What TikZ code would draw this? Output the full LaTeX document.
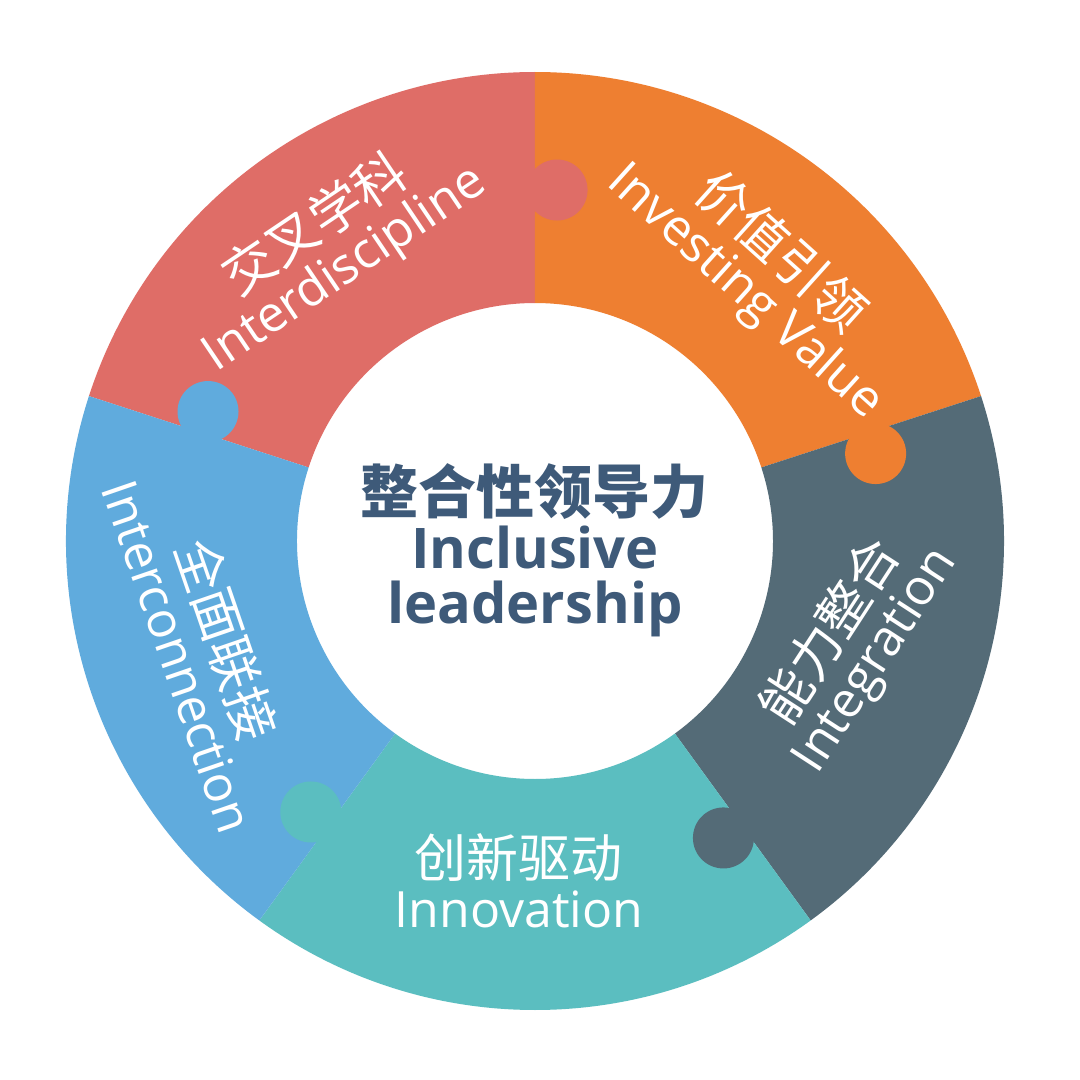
\documentclass[tikz,border=0pt]{standalone}
\usepackage{fontspec}
\setmainfont{Open Sans}
\newfontfamily\cjk{Noto Sans CJK SC}
\definecolor{cred}{HTML}{DF6D67}
\definecolor{corange}{HTML}{EE7F31}
\definecolor{cgray}{HTML}{546B77}
\definecolor{cteal}{HTML}{5BBEC0}
\definecolor{cblue}{HTML}{60ABDD}
\definecolor{ctext}{HTML}{3E5A79}
\tikzset{
  segtext/.style={text=white, align=center, inner sep=0pt,
    font=\fontsize{50}{50}\selectfont},
  midtext/.style={text=ctext, align=center, inner sep=0pt,
    font=\bfseries\fontsize{56}{55}\selectfont},
}
\newcommand{\ringseg}[3]{%
  \fill[#1] (#2:238pt) -- (#2:469pt) arc[start angle=#2, end angle=#3, radius=469pt]
    -- (#3:238pt) arc[start angle=#3, end angle=#2, radius=238pt] -- cycle;}
\begin{document}
\begin{tikzpicture}[x=1pt,y=1pt]
\useasboundingbox[fill=white] (-535,-539) rectangle (545,541);
% ring segments
\ringseg{cred}{90}{162}
\ringseg{corange}{18}{90}
\ringseg{cgray}{-54}{18}
\ringseg{cteal}{-126}{-54}
\ringseg{cblue}{162}{234}
% puzzle tabs
\fill[cred]    (86.4:351.7pt)   circle[radius=30.5pt];
\fill[corange] (14.4:351.7pt)   circle[radius=30.5pt];
\fill[cgray]   (-57.6:351.7pt)  circle[radius=30.5pt];
\fill[cteal]   (-129.6:351.7pt) circle[radius=30.5pt];
\fill[cblue]   (158.4:351.7pt)  circle[radius=30.5pt];
% segment labels
\node[segtext, rotate=34] (tred) at (-205,294)
  {{\cjk\fontsize{52}{50}\selectfont 交叉学科}\\Interdiscipline};
\node[segtext, rotate=-42] (torange) at (228,269)
  {{\cjk\fontsize{52}{50}\selectfont 价值引领}\\Investing Value};
\node[segtext, rotate=57] (tgray) at (318,-105)
  {{\cjk\fontsize{52}{50}\selectfont 能力整合}\\Integration};
\node[segtext] (tteal) at (-16,-340)
  {{\cjk\fontsize{52}{50}\selectfont 创新驱动}\\Innovation};
\node[segtext, rotate=-71] (tblue) at (-330,-106)
  {{\cjk\fontsize{52}{50}\selectfont 全面联接}\\Interconnection};
% centre label
\node[midtext] (centre) at (0,-9)
  {{\cjk\bfseries\fontsize{58}{55}\selectfont 整合性领导力}\\Inclusive\hspace*{16pt}\\leadership};
\end{tikzpicture}
\end{document}
